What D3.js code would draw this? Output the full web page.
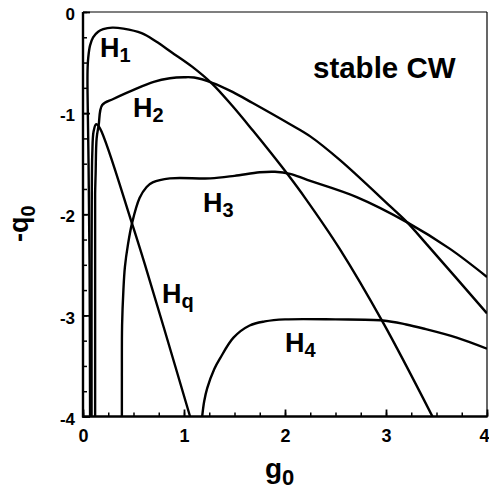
<!DOCTYPE html>
<html>
<head>
<meta charset="utf-8">
<script src="https://cdn.jsdelivr.net/npm/d3@7"></script>
<style>
  html, body { margin: 0; padding: 0; background: #fff; }
  svg { display: block; }
  text { font-family: "Liberation Sans", Arial, Helvetica, sans-serif; font-weight: bold; fill: #000; }
</style>
</head>
<body>
<script>
// ---- data: [g0, -q0] pairs ----
const curveH1 = [[0.07,-4.0],[0.065,-2.5],[0.055,-1.5],[0.045,-0.8],[0.045,-0.58],[0.052,-0.45],[0.07,-0.33],[0.1,-0.25],[0.15,-0.195],[0.2,-0.17],[0.29,-0.155],[0.4,-0.165],[0.58,-0.21],[0.72,-0.29],[0.88,-0.40],[1.08,-0.54],[1.28,-0.71],[1.48,-0.93],[1.68,-1.17],[1.85,-1.38],[2.03,-1.61],[2.2,-1.84],[2.54,-2.34],[2.97,-3.07],[3.46,-4.0]];
const curveH2 = [[0.12,-4.0],[0.12,-2.5],[0.12,-1.8],[0.125,-1.6],[0.135,-1.25],[0.155,-1.12],[0.19,-0.92],[0.3,-0.86],[0.495,-0.772],[0.7,-0.69],[0.86,-0.655],[1.0,-0.645],[1.1,-0.648],[1.28,-0.70],[1.48,-0.79],[1.68,-0.90],[2.05,-1.11],[2.25,-1.23],[2.545,-1.465],[3.04,-1.92],[3.21,-2.08],[3.406,-2.30],[4.0,-2.98]];
const curveH3 = [[0.385,-4.0],[0.385,-3.6],[0.387,-3.1],[0.40,-2.75],[0.415,-2.52],[0.445,-2.3],[0.485,-2.09],[0.56,-1.84],[0.63,-1.73],[0.69,-1.685],[0.86,-1.645],[1.26,-1.645],[1.5,-1.62],[1.75,-1.585],[1.9,-1.58],[2.05,-1.6],[2.22,-1.66],[2.71,-1.83],[3.21,-2.08],[3.63,-2.34],[4.0,-2.62]];
const curveH4 = [[1.18,-4.0],[1.20,-3.85],[1.23,-3.72],[1.30,-3.53],[1.36,-3.42],[1.49,-3.22],[1.65,-3.10],[1.80,-3.06],[2.0,-3.04],[2.5,-3.04],[2.97,-3.05],[3.2,-3.09],[3.37,-3.13],[3.7,-3.22],[4.0,-3.33]];
const curveHq = [[0.085,-4.0],[0.085,-2.5],[0.087,-1.8],[0.092,-1.4],[0.105,-1.18],[0.13,-1.11],[0.168,-1.15],[0.485,-2.09],[0.614,-2.50],[0.8,-3.12],[1.06,-4.0]];

const xTicks = [0, 1, 2, 3, 4];
const yTicks = [0, -1, -2, -3, -4];
const xMinor = d3.range(0, 4.001, 0.25);
const yMinor = d3.range(-4, 0.001, 0.25);

// label anchors in data coordinates: [g0, -q0, name, subscript]
const curveLabels = [
  [0.168, -0.446, "H", "1"],
  [0.495, -1.04, "H", "2"],
  [1.188, -1.98, "H", "3"],
  [0.782, -2.88, "H", "q"],
  [2.0, -3.366, "H", "4"]
];
const regionLabel = [2.277, -0.653, "stable CW"];

// ---- layout ----
const W = 489, Ht = 493;
const mLeft = 83, mRight = 487, mTop = 12, mBottom = 416.5;

const svg = d3.select("body").append("svg").attr("width", W).attr("height", Ht);

const x = d3.scaleLinear().domain([0, 4]).range([mLeft, mRight]);
const y = d3.scaleLinear().domain([-4, 0]).range([mBottom, mTop]);

svg.append("clipPath").attr("id", "plot")
  .append("rect").attr("x", mLeft).attr("y", mTop).attr("width", mRight - mLeft).attr("height", mBottom - mTop);

// curves
const line = d3.line().x(d => x(d[0])).y(d => y(d[1])).curve(d3.curveCatmullRom.alpha(0.5));
const g = svg.append("g").attr("clip-path", "url(#plot)");
[curveH1, curveH2, curveH3, curveH4, curveHq].forEach(c => {
  g.append("path").attr("d", line(c)).attr("fill", "none")
    .attr("stroke", "#000").attr("stroke-width", 2.4).attr("stroke-linejoin", "round");
});

// frame
svg.append("line").attr("x1", mLeft).attr("x2", mRight).attr("y1", mTop).attr("y2", mTop).attr("stroke", "#000").attr("stroke-width", 1.2);
svg.append("line").attr("x1", mRight).attr("x2", mRight).attr("y1", mTop).attr("y2", mBottom).attr("stroke", "#000").attr("stroke-width", 1.2);

// minor ticks
svg.append("g").attr("transform", `translate(0,${mBottom})`)
  .call(d3.axisBottom(x).tickValues(xMinor).tickSize(-4).tickFormat(""))
  .call(s => s.select(".domain").remove())
  .selectAll("line").attr("stroke-width", 1.5);
svg.append("g").attr("transform", `translate(${mLeft},0)`)
  .call(d3.axisLeft(y).tickValues(yMinor).tickSize(-4).tickFormat(""))
  .call(s => s.select(".domain").remove())
  .selectAll("line").attr("stroke-width", 1.5);

// major ticks with labels
const xa = svg.append("g").attr("transform", `translate(0,${mBottom})`)
  .call(d3.axisBottom(x).tickValues(xTicks).tickSize(-7).tickPadding(13).tickFormat(d3.format("d")));
xa.select(".domain").remove();
xa.selectAll("line").attr("stroke-width", 1.8);
xa.selectAll("text").attr("font-size", 18).style("font-family", '"Liberation Sans", Arial, sans-serif').style("font-weight", "bold")
  .attr("dx", d => d === 4 ? -3 : 0);

const ya = svg.append("g").attr("transform", `translate(${mLeft},0)`)
  .call(d3.axisLeft(y).tickValues(yTicks).tickSize(-7).tickPadding(8).tickFormat(d => d === 0 ? "0" : "-" + Math.abs(d)));
ya.select(".domain").remove();
ya.selectAll("line").attr("stroke-width", 1.8);
ya.selectAll("text").attr("font-size", 17).attr("dy", "0.45em").style("font-family", '"Liberation Sans", Arial, sans-serif').style("font-weight", "bold");

// left & bottom axis lines (thicker)
svg.append("line").attr("x1", mLeft).attr("x2", mLeft).attr("y1", mTop).attr("y2", mBottom + 1).attr("stroke", "#000").attr("stroke-width", 2.4);
svg.append("line").attr("x1", mLeft - 1).attr("x2", mRight + 0.6).attr("y1", mBottom).attr("y2", mBottom).attr("stroke", "#000").attr("stroke-width", 2.4);

// curve labels
curveLabels.forEach(l => {
  const t = svg.append("text").attr("x", x(l[0])).attr("y", y(l[1])).attr("font-size", 27);
  t.append("tspan").text(l[2]);
  t.append("tspan").attr("font-size", 20).attr("dy", 5).text(l[3]);
});

svg.append("text").attr("x", x(regionLabel[0])).attr("y", y(regionLabel[1]))
  .attr("font-size", 29.5).text(regionLabel[2]);

// axis titles
const xt = svg.append("text").attr("x", 265).attr("y", 478).attr("font-size", 28);
xt.append("tspan").text("g");
xt.append("tspan").attr("font-size", 22).attr("dy", 7).text("0");

const yt = svg.append("text").attr("transform", "translate(28,242) rotate(-90)").attr("font-size", 27);
yt.append("tspan").text("-q");
yt.append("tspan").attr("font-size", 20).attr("dy", 7).text("0");
</script>
</body>
</html>
